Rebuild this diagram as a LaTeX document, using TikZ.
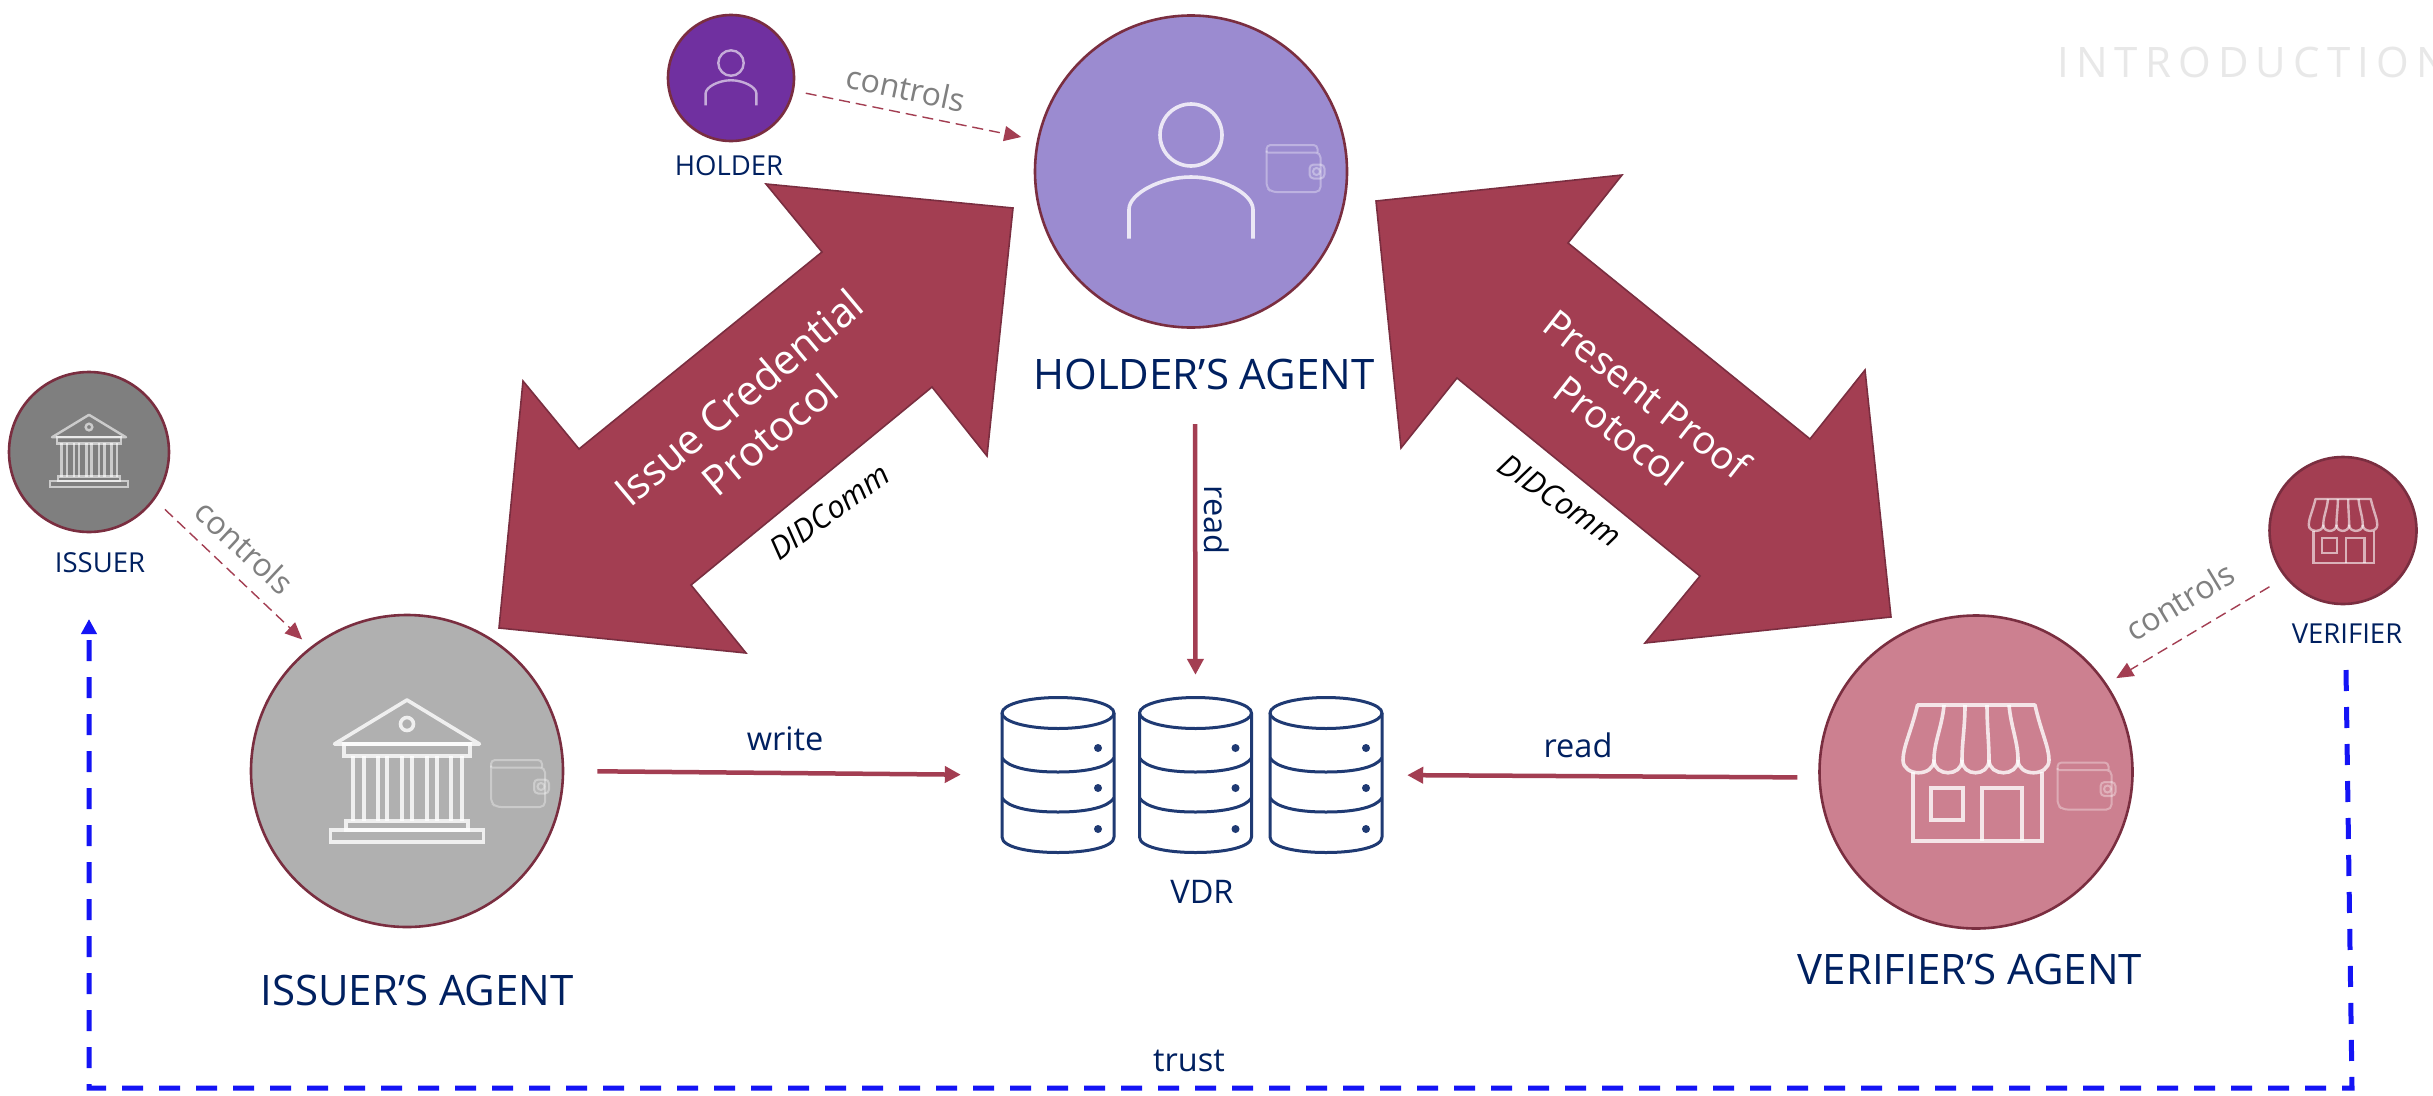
\documentclass[tikz,border=0pt]{standalone}
\usepackage{fontspec}
\setmainfont{Open Sans}
\usetikzlibrary{arrows.meta}
\definecolor{wine}{HTML}{A33E52}
\definecolor{wineline}{HTML}{7A2E40}
\definecolor{navy}{HTML}{002060}
\definecolor{dbnavy}{HTML}{1F3A73}
\definecolor{ctrlgray}{HTML}{808080}
\definecolor{purp}{HTML}{7030A0}
\definecolor{lilac}{HTML}{9B8BD0}
\definecolor{greyA}{HTML}{B0B0B0}
\definecolor{greyS}{HTML}{7F7F7F}
\definecolor{rose}{HTML}{CC8090}
\definecolor{trustblue}{HTML}{1414F5}
\newcommand{\fs}[1]{\fontsize{#1}{#1}\selectfont}
\tikzset{
  disc/.style={circle,draw=wineline,line width=2.6pt,inner sep=0pt,minimum size=#1},
  biglabel/.style={text=navy,font=\fs{42},inner sep=0pt},
  smalllabel/.style={text=navy,font=\fs{27.5},inner sep=0pt},
  edgelabel/.style={text=navy,font=\fs{32.5},inner sep=0pt},
  ctrllabel/.style={text=ctrlgray,font=\fs{32},inner sep=0pt},
  protolabel/.style={text=white,font=\fs{#1},inner sep=0pt,align=center},
  didlabel/.style={text=black,font=\fs{31}\itshape,inner sep=0pt},
  bigarrow/.style={fill=wine,draw=wineline,line width=1.6pt,line join=miter},
  solidlink/.style={draw=wine,line width=4.5pt,-{Triangle[length=16pt,width=16pt]}},
  ctrllink/.style={draw=wine,line width=1.4pt,dash pattern=on 11pt off 6pt,-{Triangle[length=17pt,width=15pt]}},
  trustlink/.style={draw=trustblue,line width=5pt,dash pattern=on 21pt off 16pt,-{Triangle[length=15pt,width=15pt]}},
  dbbox/.style={minimum width=116pt,minimum height=156pt,inner sep=0pt},
  dbline/.style={draw=dbnavy,line width=3pt,line join=round},
  iconpersonp/.pic={
    \draw (0,-36.5) ellipse [x radius=31,y radius=31];
    \draw (-62,67) -- (-62,38) .. controls (-62,22) and (-30,5.5) .. (0,5.5)
          .. controls (30,5.5) and (62,22) .. (62,38) -- (62,67);
  },
  iconwalletp/.pic={
    \draw[rounded corners=5pt] (-27,-18) -- (-27,19) -- (-22,23.5) -- (27,23.5) -- (27,-16) -- (-27,-16);
    \draw[rounded corners=4pt] (-27,-16) -- (-27,-23.5) -- (24,-23.5) -- (24,-16);
    \draw[rounded corners=4pt,fill=white,fill opacity=0.08] (16,-4) rectangle (31,10);
    \draw (23,3) circle [radius=3.5];
  },
  iconbankp/.pic={
    \draw[line join=round] (-72.5,-27) -- (0,-71) -- (72.5,-27) -- cycle;
    \draw (0,-47) circle [radius=6.5];
    \draw (-63,-27) rectangle (63,-15);
    \foreach \a/\b in {-54/-43,-29/-20,-5/5,20/30,44/55}{
      \draw (\a,-15) -- (\a,50) (\b,-15) -- (\b,50);
    }
    \draw (-61,50) rectangle (61,59);
    \draw (-76.5,59) rectangle (76.5,71);
  },
  iconstorep/.pic={
    \draw[line join=round] (-73,-12) .. controls (-73,-25) and (-65,-40) .. (-58.5,-67) -- (59,-67)
      .. controls (65,-40) and (73,-25) .. (73,-12);
    \foreach \a/\b in {-73/-42,-42/-14,-14/13,13/42,42/73}{
      \draw (\a,-12) .. controls (\a,5) and (\b,5) .. (\b,-12);
    }
    \draw (-32,-67) .. controls (-34,-45) and (-42,-30) .. (-42,-12);
    \draw (-11,-67) .. controls (-11,-45) and (-14,-30) .. (-14,-12);
    \draw (11,-67) .. controls (11,-45) and (13,-30) .. (13,-12);
    \draw (33,-67) .. controls (35,-45) and (42,-30) .. (42,-12);
    \draw (-63,0) -- (-63,69) -- (66,69) -- (66,0);
    \draw (-45,16) rectangle (-13,48);
    \draw (6,69) -- (6,16) -- (46,16) -- (46,69);
  },
  cylinderp/.pic={
    \draw[dbline] (0,-62) ellipse [x radius=56,y radius=15.5];
    \draw[dbline] (-56,-62) -- (-56,62) .. controls (-56,72) and (-30,77.5) .. (0,77.5)
       .. controls (30,77.5) and (56,72) .. (56,62) -- (56,-62);
    \draw[dbline] (-56,-17) .. controls (-50,-8) and (-30,-3) .. (0,-3) .. controls (30,-3) and (50,-8) .. (56,-17);
    \draw[dbline] (-56,23) .. controls (-50,32) and (-30,37) .. (0,37) .. controls (30,37) and (50,32) .. (56,23);
    \fill[dbnavy] (40,-27) circle [radius=4];
    \fill[dbnavy] (40,13) circle [radius=4];
    \fill[dbnavy] (40,54) circle [radius=4];
  }
}
\begin{document}
\begin{tikzpicture}[x=1pt,y=-1pt]
\useasboundingbox (0,0) rectangle (2433,1095);
\fill[white] (0,0) rectangle (2433,1095);
\clip (0,0) rectangle (2433,1095);

% watermark
\node[anchor=west,inner sep=0pt,text=black!9,font=\fs{42}\addfontfeature{LetterSpace=17}] (intro) at (2057,62) {INTRODUCTION};

% big double arrows
\draw[bigarrow] (1013,208) -- (766,184) -- (822,252) -- (579,449) -- (523,381) -- (499,628) -- (746,653) -- (691,585) -- (932,387) -- (987,456) -- cycle;
\draw[bigarrow] (1376,201) -- (1622,175) -- (1568,243) -- (1810,439) -- (1865,370) -- (1891,617) -- (1645,643) -- (1700,576) -- (1457,378) -- (1401,448) -- cycle;

% agents and actors
\node[disc=312pt,fill=lilac] (ha) at (1191,171.5) {};
\node[disc=312pt,fill=greyA] (ia) at (407,771) {};
\node[disc=313pt,fill=rose] (va) at (1976,772) {};
\node[disc=126pt,fill=purp] (hs) at (731,78) {};
\node[disc=160pt,fill=greyS] (is) at (89,452) {};
\node[disc=147pt,fill=wine] (vs) at (2343,530.5) {};

% icons
\begin{scope}[draw=white,draw opacity=0.8,line width=3.6pt]
  \pic at (1191,171.5) {iconpersonp};
  \pic at (407,771) {iconbankp};
  \pic at (1976,772) {iconstorep};
\end{scope}
\begin{scope}[draw=white,draw opacity=0.6,line width=2.4pt]
  \pic[scale=0.41] at (731,78) {iconpersonp};
  \pic[scale=0.51] at (89,451) {iconbankp};
  \pic[scale=0.47] at (2343,530.5) {iconstorep};
\end{scope}
\begin{scope}[draw=white,draw opacity=0.34,line width=2pt]
  \pic at (1293.5,168.5) {iconwalletp};
  \pic at (518,783.5) {iconwalletp};
  \pic at (2084.5,786) {iconwalletp};
\end{scope}

% VDR
\node[dbbox] (db1) at (1058,775) {};
\node[dbbox] (db2) at (1195.5,775) {};
\node[dbbox] (db3) at (1326,775) {};
\pic at (db1.center) {cylinderp};
\pic at (db2.center) {cylinderp};
\pic at (db3.center) {cylinderp};

% labels
\node[smalllabel] (hsl) at (729,166) {HOLDER};
\node[smalllabel] (isl) at (100,562.5) {ISSUER};
\node[smalllabel] (vsl) at (2347,634) {VERIFIER};
\node[biglabel] (hal) at (1204,374) {HOLDER’S AGENT};
\node[biglabel] (ial) at (417,990) {ISSUER’S AGENT};
\node[biglabel] (val) at (1970,969) {VERIFIER’S AGENT};
\node[edgelabel] (vdrl) at (1202,892) {VDR};

% protocol texts
\node[protolabel=41.5,rotate=40] (icp) at (754,416) {Issue Credential\\[7pt]Protocol};
\node[protolabel=39,rotate=-38] (ppp) at (1633,412) {Present Proof\\[7pt]Protocol};
\node[didlabel,rotate=36] (d1) at (829,512) {DIDComm};
\node[didlabel,rotate=-34] (d2) at (1560,500) {DIDComm};

% links
\coordinate (readtop) at (1195,424);
\draw[solidlink,shorten <=33pt,shorten >=39pt] (ia.east) -- (db1.west);
\draw[solidlink,shorten <=0pt,shorten >=22pt] (readtop) -- (db2.north);
\draw[solidlink,shorten <=21pt,shorten >=23pt] (va.182) -- (db3.east);
\draw[ctrllink,shorten <=12pt,shorten >=16pt] (hs) -- (ha);
\draw[ctrllink,shorten <=14pt,shorten >=11pt] (is.-36) -- (ia.128.5);
\draw[ctrllink,shorten <=18pt,shorten >=11pt] (vs.219) -- (va.34.3);
\node[edgelabel] (wl) at (785,739) {write};
\node[edgelabel] (rl) at (1578,745) {read};
\node[edgelabel,rotate=-90] (rv) at (1217,520) {read};
\node[ctrllabel,rotate=-12] (c1) at (906,88) {controls};
\node[ctrllabel,rotate=-43] (c2) at (245,547) {controls};
\node[ctrllabel,rotate=31] (c3) at (2180,601) {controls};

% trust
\coordinate (trustA) at (2346,670);
\coordinate (trustB) at (2352,1088);
\coordinate (trustC) at (89,1088);
\coordinate (trustD) at (89,619);
\draw[trustlink] (trustA) -- (trustB) -- (trustC) -- (trustD);
\node[edgelabel] (tl) at (1189,1061) {trust};
\end{tikzpicture}
\end{document}
